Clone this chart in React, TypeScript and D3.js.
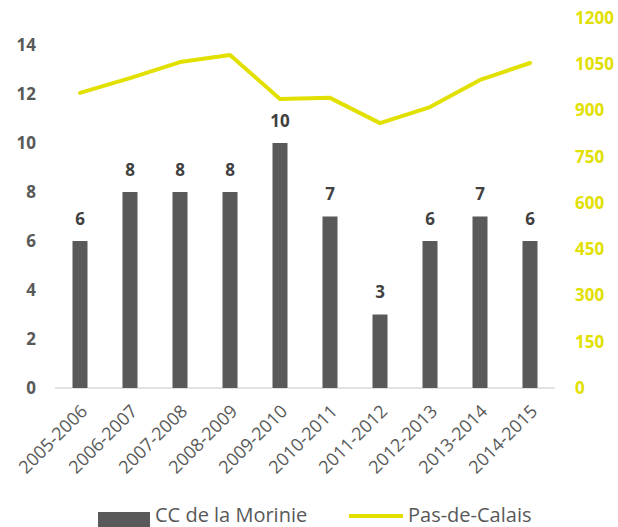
import React from 'react';
import * as d3 from 'd3';

const categories = ['2005-2006', '2006-2007', '2007-2008', '2008-2009', '2009-2010', '2010-2011', '2011-2012', '2012-2013', '2013-2014', '2014-2015'];
const moriniValues = [6, 8, 8, 8, 10, 7, 3, 6, 7, 6];
const pasDeCalaisValues = [957, 1005, 1057, 1080, 937, 941, 859, 911, 999, 1054];
const leftTicks = [0, 2, 4, 6, 8, 10, 12, 14];
const rightTicks = [0, 150, 300, 450, 600, 750, 900, 1050, 1200];

const BAR_COLOR = '#595959';
const LINE_COLOR = '#e1e000';
const FONT = '"Open Sans", "DejaVu Sans", sans-serif';

export default function App() {
  const width = 618;
  const height = 527;
  const plot = { left: 55, right: 555, top: 18, bottom: 388 };

  const x = d3.scaleBand<string>()
    .domain(categories)
    .range([plot.left, plot.right])
    .paddingInner(0.7)
    .paddingOuter(0.35);

  // left axis: 14 units over 343 px
  const yLeft = d3.scaleLinear().domain([0, 14]).range([plot.bottom, plot.bottom - 343]);
  const yRight = d3.scaleLinear().domain([0, 1200]).range([plot.bottom, plot.top]);

  const cx = (c: string) => (x(c) || 0) + x.bandwidth() / 2;

  const line = d3.line<number>()
    .x((_, i) => cx(categories[i]))
    .y(d => yRight(d));

  return (
    <svg width={width} height={height} style={{ position: 'absolute', left: 0, top: 0, fontFamily: FONT }}>
      <rect width={width} height={height} fill="#fff" />
      {/* baseline */}
      <line x1={plot.left} x2={plot.right} y1={plot.bottom} y2={plot.bottom} stroke="#d9d9d9" strokeWidth={1.5} />

      {/* left ticks */}
      {leftTicks.map(t => (
        <text key={'l' + t} x={36} y={yLeft(t)} dy="0.35em" textAnchor="end" fontSize={17} fontWeight="bold" fill="#595959">{t}</text>
      ))}
      {/* right ticks */}
      {rightTicks.map(t => (
        <text key={'r' + t} x={575} y={yRight(t)} dy="0.35em" textAnchor="start" fontSize={17} fontWeight="bold" fill={LINE_COLOR}>{t}</text>
      ))}

      {/* bars */}
      {categories.map((c, i) => (
        <g key={c}>
          <rect x={x(c)} y={yLeft(moriniValues[i])} width={x.bandwidth()} height={plot.bottom - yLeft(moriniValues[i])} fill={BAR_COLOR} />
          <text x={cx(c)} y={yLeft(moriniValues[i]) - 22} dy="0.35em" textAnchor="middle" fontSize={17} fontWeight="bold" fill="#404040">{moriniValues[i]}</text>
          <text transform={`translate(${cx(c) + 4},${plot.bottom + 20}) rotate(-45)`} textAnchor="end" dy="0.35em" fontSize={18} fill="#595959">{c}</text>
        </g>
      ))}

      {/* line */}
      <path d={line(pasDeCalaisValues) || ''} fill="none" stroke={LINE_COLOR} strokeWidth={4} strokeLinejoin="round" strokeLinecap="round" />

      {/* legend */}
      <rect x={98} y={512} width={52} height={15} fill={BAR_COLOR} />
      <text x={155} y={522} fontSize={20} fill="#595959">CC de la Morinie</text>
      <line x1={349} x2={403} y1={516} y2={516} stroke={LINE_COLOR} strokeWidth={4} />
      <text x={408} y={522} fontSize={20} fill="#595959">Pas-de-Calais</text>
    </svg>
  );
}
